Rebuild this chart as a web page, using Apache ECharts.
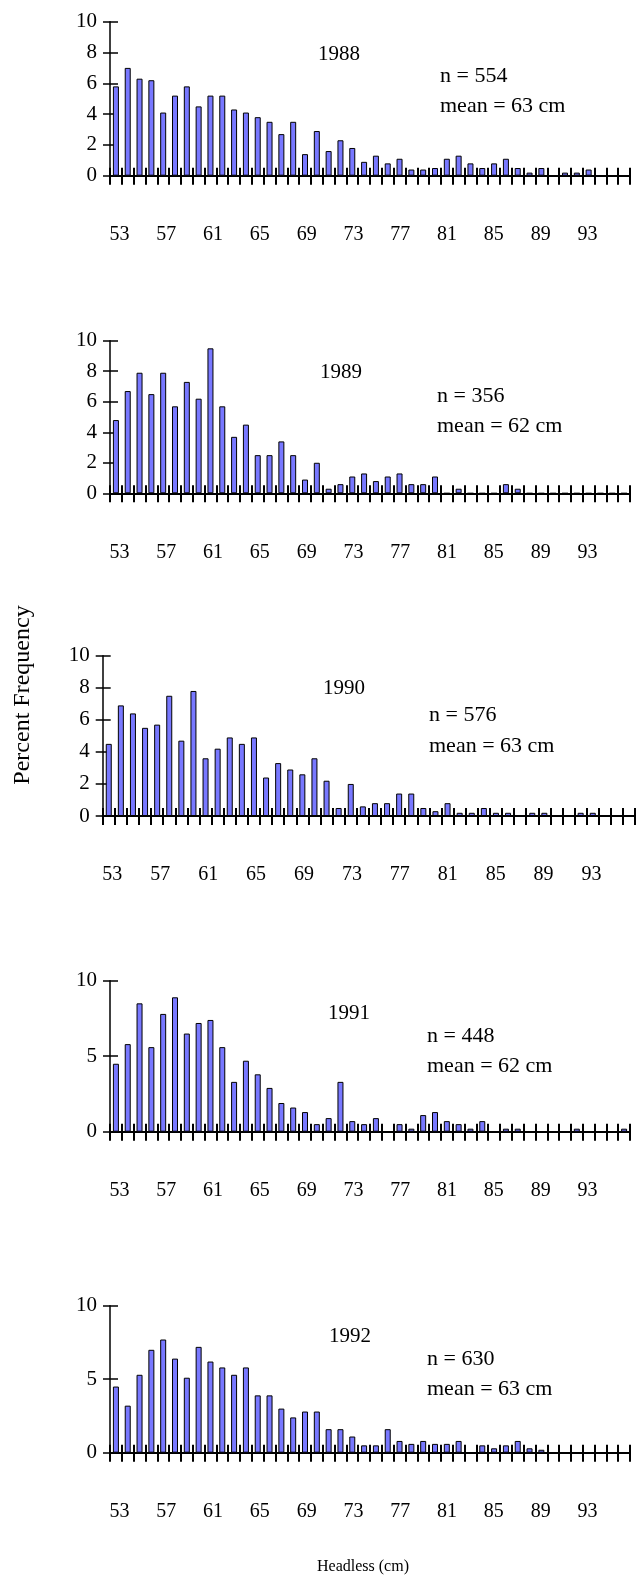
<!DOCTYPE html>
<html>
<head>
<meta charset="utf-8">
<script src="https://cdn.jsdelivr.net/npm/echarts@6/dist/echarts.min.js"></script>
<style>
    html, body { margin: 0; padding: 0; background: #fff; }
    #chart { width: 639px; height: 1579px; }
</style>
</head>
<body>
<div id="chart"></div>
<script>
// headless length classes (cm)
const lengths = ['53', '54', '55', '56', '57', '58', '59', '60', '61', '62', '63', '64', '65', '66', '67',
    '68', '69', '70', '71', '72', '73', '74', '75', '76', '77', '78', '79', '80', '81', '82', '83', '84',
    '85', '86', '87', '88', '89', '90', '91', '92', '93', '94', '95', '96']

// percent frequency per length class, one array per year
const freq1988 = [5.8, 7.0, 6.3, 6.2, 4.1, 5.2, 5.8, 4.5, 5.2, 5.2, 4.3, 4.1, 3.8, 3.5, 2.7, 3.5, 1.4, 2.9, 1.6, 2.3,
    1.8, 0.9, 1.3, 0.8, 1.1, 0.4, 0.4, 0.5, 1.1, 1.3, 0.8, 0.5, 0.8, 1.1, 0.5, 0.2, 0.5, 0, 0.2, 0.2, 0.4, 0, 0, 0]
const freq1989 = [4.8, 6.7, 7.9, 6.5, 7.9, 5.7, 7.3, 6.2, 9.5, 5.7, 3.7, 4.5, 2.5, 2.5, 3.4, 2.5, 0.9, 2.0, 0.3, 0.6,
    1.1, 1.3, 0.8, 1.1, 1.3, 0.6, 0.6, 1.1, 0, 0.3, 0, 0, 0, 0.6, 0.3, 0, 0, 0, 0, 0, 0, 0, 0, 0]
const freq1990 = [4.5, 6.9, 6.4, 5.5, 5.7, 7.5, 4.7, 7.8, 3.6, 4.2, 4.9, 4.5, 4.9, 2.4, 3.3, 2.9, 2.6, 3.6, 2.2, 0.5,
    2.0, 0.6, 0.8, 0.8, 1.4, 1.4, 0.5, 0.3, 0.8, 0.2, 0.2, 0.5, 0.2, 0.2, 0, 0.2, 0.2, 0, 0, 0.2, 0.2, 0, 0, 0]
const freq1991 = [4.5, 5.8, 8.5, 5.6, 7.8, 8.9, 6.5, 7.2, 7.4, 5.6, 3.3, 4.7, 3.8, 2.9, 1.9, 1.6, 1.3, 0.5, 0.9, 3.3,
    0.7, 0.5, 0.9, 0, 0.5, 0.2, 1.1, 1.3, 0.7, 0.5, 0.2, 0.7, 0, 0.2, 0.2, 0, 0, 0, 0, 0.2, 0, 0, 0, 0.2]
const freq1992 = [4.5, 3.2, 5.3, 7.0, 7.7, 6.4, 5.1, 7.2, 6.2, 5.8, 5.3, 5.8, 3.9, 3.9, 3.0, 2.4, 2.8, 2.8, 1.6, 1.6,
    1.1, 0.5, 0.5, 1.6, 0.8, 0.6, 0.8, 0.6, 0.6, 0.8, 0, 0.5, 0.3, 0.5, 0.8, 0.3, 0.2, 0, 0, 0, 0, 0, 0, 0]

const years = ['1988', '1989', '1990', '1991', '1992']
const sampleSizes = [554, 356, 576, 448, 630]
const meanLengths = [63, 62, 63, 62, 63]
const yIntervals = [2, 2, 2, 5, 5]
const yMax = 10

const allFreq = [freq1988, freq1989, freq1990, freq1991, freq1992]

// panel boxes (px)
const panels = [
    { left: 110, top: 21.7, width: 520, height: 154, yearY: 54, nY: 76.5, meanY: 106.5, yearX: 318, nX: 440 },
    { left: 110, top: 340.7, width: 520, height: 152.6, yearY: 372.5, nY: 396.5, meanY: 426.5, yearX: 320, nX: 437 },
    { left: 102.7, top: 655.7, width: 532.4, height: 160.3, yearY: 688.5, nY: 715, meanY: 746.5, yearX: 323, nX: 429 },
    { left: 110, top: 980.7, width: 520, height: 151, yearY: 1013.5, nY: 1036.5, meanY: 1066.5, yearX: 328, nX: 427 },
    { left: 110, top: 1305.7, width: 520, height: 147, yearY: 1336, nY: 1359, meanY: 1389, yearX: 329, nX: 427 }
]
// the tick labels sit a little right of the bar cells in the original
const labelShift = 3.6
const labelScale = 0.99

const FONT = 'Liberation Serif, Times New Roman, serif'
const N = panels.length

const grid = []
const xAxis = []
const yAxis = []
const series = []
const graphic = []

panels.forEach((p, i) => {
    grid.push({ left: p.left, top: p.top, width: p.width, height: p.height })
    // main x axis: line and outward ticks
    xAxis.push({
        type: 'category',
        gridIndex: i,
        data: lengths,
        position: 'bottom',
        axisLine: { show: true, lineStyle: { color: '#000', width: 2 } },
        axisTick: { show: true, interval: 0, length: 9, lineStyle: { color: '#000', width: 2 } },
        axisLabel: { show: false }
    })
    // second copy only for the inward half of the crossing ticks
    xAxis.push({
        type: 'category',
        gridIndex: i,
        data: lengths,
        position: 'bottom',
        axisLine: { show: false },
        axisTick: { show: true, interval: 0, inside: true, length: 8, lineStyle: { color: '#000', width: 2 } },
        axisLabel: { show: false }
    })
    yAxis.push({
        type: 'value',
        gridIndex: i,
        min: 0,
        max: yMax,
        interval: yIntervals[i],
        position: 'left',
        splitLine: { show: false },
        axisLine: { show: true, lineStyle: { color: '#000', width: 1.5 } },
        axisTick: { show: true, length: 7, lineStyle: { color: '#000', width: 1.5 } },
        axisLabel: { margin: 13, color: '#000', fontFamily: FONT, fontSize: 21 }
    })
    yAxis.push({
        type: 'value',
        gridIndex: i,
        min: 0,
        max: yMax,
        interval: yIntervals[i],
        position: 'left',
        splitLine: { show: false },
        axisLine: { show: false },
        axisTick: { show: true, inside: true, length: 8, lineStyle: { color: '#000', width: 1.5 } },
        axisLabel: { show: false }
    })
    series.push({
        type: 'bar',
        xAxisIndex: i * 2,
        yAxisIndex: i * 2,
        data: allFreq[i],
        barWidth: 6,
        itemStyle: { color: '#7878ff', borderColor: '#000', borderWidth: 1 },
        silent: true
    })
    const txt = { fill: '#000', font: '22px ' + FONT, verticalAlign: 'middle' }
    graphic.push({ type: 'text', x: p.yearX, y: p.yearY, style: Object.assign({}, txt, { text: years[i], font: '21px ' + FONT }) })
    graphic.push({ type: 'text', x: p.nX, y: p.nY, style: Object.assign({ text: 'n = ' + sampleSizes[i] }, txt) })
    graphic.push({
        type: 'text', x: p.nX, y: p.meanY,
        style: Object.assign({ text: 'mean = ' + meanLengths[i] + ' cm' }, txt)
    })
})

// label-only grids, laid over each panel, carrying the length tick labels
panels.forEach((p, i) => {
    const w = p.width * labelScale
    grid.push({ left: p.left + labelShift + (p.width - w) / 2 - 2.6, top: p.top, width: w, height: p.height })
    xAxis.push({
        type: 'category',
        gridIndex: N + i,
        data: lengths,
        position: 'bottom',
        axisLine: { show: false },
        axisTick: { show: false },
        axisLabel: { interval: 3, margin: 49, color: '#000', fontFamily: FONT, fontSize: 20 }
    })
    yAxis.push({ type: 'value', gridIndex: N + i, min: 0, max: yMax, show: false })
})

graphic.push({
    type: 'text', x: 23, y: 695, rotation: Math.PI / 2,
    style: { text: 'Percent Frequency', fill: '#000', font: '24px ' + FONT, align: 'center', verticalAlign: 'middle' }
})
graphic.push({
    type: 'text', x: 363, y: 1567,
    style: { text: 'Headless (cm)', fill: '#000', font: '16px ' + FONT, align: 'center', verticalAlign: 'middle' }
})

const myChart = echarts.init(document.getElementById('chart'), null, { renderer: 'canvas' })
myChart.setOption({
    animation: false,
    backgroundColor: '#fff',
    grid,
    xAxis,
    yAxis,
    series,
    graphic
})
</script>
</body>
</html>
